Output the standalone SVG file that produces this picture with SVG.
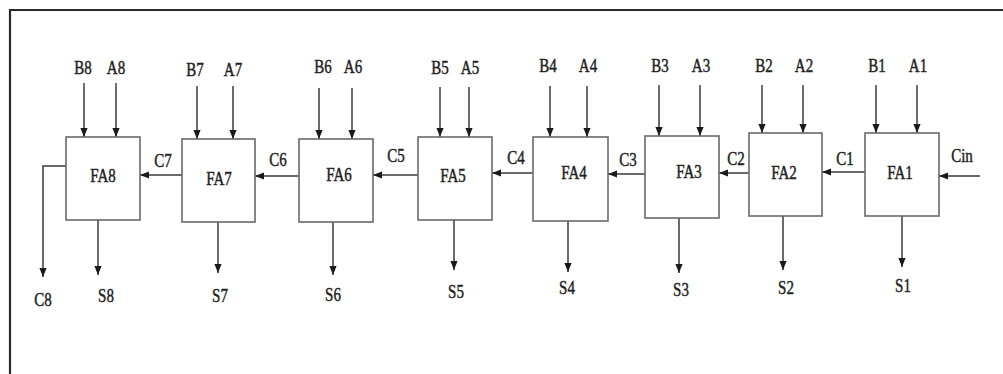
<svg xmlns="http://www.w3.org/2000/svg" width="1003" height="374" viewBox="0 0 1003 374">
<style>
.box{fill:#fff;stroke:#6a6a6a;stroke-width:1.6}
.w{fill:none;stroke:#3a3a3a;stroke-width:1.5}
.t{font-family:"Liberation Serif","Times New Roman",serif;font-size:15px;fill:#222;stroke:#222;stroke-width:0.35;text-anchor:middle}
.f{stroke:#2a2a2a;stroke-width:2.2}
</style>
<defs>
<marker id="ah" viewBox="0 0 10 8" refX="10" refY="4" markerWidth="9" markerHeight="7.5" markerUnits="userSpaceOnUse" orient="auto">
<path d="M0,0 L10,4 L0,8 Z" fill="#1a1a1a"/>
</marker>
</defs>
<rect width="1003" height="374" fill="#fff"/>
<g id="frame">
<line class="f" x1="9" y1="10" x2="1003" y2="10"/>
<line class="f" x1="10" y1="9" x2="10" y2="374"/>
</g>
<g id="connectors">
<line class="w" x1="84" y1="83" x2="84" y2="137" marker-end="url(#ah)"/>
<line class="w" x1="116" y1="83" x2="116" y2="137" marker-end="url(#ah)"/>
<line class="w" x1="197" y1="86" x2="197" y2="139" marker-end="url(#ah)"/>
<line class="w" x1="233" y1="86" x2="233" y2="139" marker-end="url(#ah)"/>
<line class="w" x1="319" y1="88" x2="319" y2="139" marker-end="url(#ah)"/>
<line class="w" x1="352" y1="88" x2="352" y2="139" marker-end="url(#ah)"/>
<line class="w" x1="440" y1="87" x2="440" y2="137" marker-end="url(#ah)"/>
<line class="w" x1="469" y1="87" x2="469" y2="137" marker-end="url(#ah)"/>
<line class="w" x1="550" y1="86" x2="550" y2="137" marker-end="url(#ah)"/>
<line class="w" x1="587" y1="86" x2="587" y2="137" marker-end="url(#ah)"/>
<line class="w" x1="659" y1="85" x2="659" y2="136" marker-end="url(#ah)"/>
<line class="w" x1="700" y1="85" x2="700" y2="136" marker-end="url(#ah)"/>
<line class="w" x1="762" y1="85" x2="762" y2="133" marker-end="url(#ah)"/>
<line class="w" x1="803" y1="85" x2="803" y2="133" marker-end="url(#ah)"/>
<line class="w" x1="876" y1="85" x2="876" y2="133" marker-end="url(#ah)"/>
<line class="w" x1="917" y1="85" x2="917" y2="133" marker-end="url(#ah)"/>
<line class="w" x1="182" y1="175" x2="140" y2="175" marker-end="url(#ah)"/>
<line class="w" x1="299" y1="176" x2="255" y2="176" marker-end="url(#ah)"/>
<line class="w" x1="418" y1="175" x2="373" y2="175" marker-end="url(#ah)"/>
<line class="w" x1="533" y1="173" x2="492" y2="173" marker-end="url(#ah)"/>
<line class="w" x1="649" y1="174" x2="608" y2="174" marker-end="url(#ah)"/>
<line class="w" x1="749" y1="173" x2="719" y2="173" marker-end="url(#ah)"/>
<line class="w" x1="865" y1="172" x2="822" y2="172" marker-end="url(#ah)"/>
<line class="w" x1="980" y1="176" x2="939" y2="176" marker-end="url(#ah)"/>
<polyline class="w" points="66,166 43,166 43,277" marker-end="url(#ah)"/>
<line class="w" x1="98" y1="220" x2="98" y2="275" marker-end="url(#ah)"/>
<line class="w" x1="218" y1="222" x2="218" y2="273" marker-end="url(#ah)"/>
<line class="w" x1="333" y1="222" x2="333" y2="275" marker-end="url(#ah)"/>
<line class="w" x1="454" y1="220" x2="454" y2="270" marker-end="url(#ah)"/>
<line class="w" x1="568" y1="221" x2="568" y2="272" marker-end="url(#ah)"/>
<line class="w" x1="679" y1="218" x2="679" y2="273" marker-end="url(#ah)"/>
<line class="w" x1="783" y1="216" x2="783" y2="270" marker-end="url(#ah)"/>
<line class="w" x1="902" y1="216" x2="902" y2="267" marker-end="url(#ah)"/>
</g>
<g id="FA8"><rect class="box" x="66" y="137" width="74" height="83"/><text class="t" transform="translate(103,182) scale(1,1.25)">FA8</text></g>
<g id="FA7"><rect class="box" x="182" y="139" width="73" height="83"/><text class="t" transform="translate(219,185) scale(1,1.25)">FA7</text></g>
<g id="FA6"><rect class="box" x="299" y="139" width="74" height="83"/><text class="t" transform="translate(339,181) scale(1,1.25)">FA6</text></g>
<g id="FA5"><rect class="box" x="418" y="137" width="74" height="83"/><text class="t" transform="translate(453,182) scale(1,1.25)">FA5</text></g>
<g id="FA4"><rect class="box" x="533" y="137" width="75" height="84"/><text class="t" transform="translate(574,179) scale(1,1.25)">FA4</text></g>
<g id="FA3"><rect class="box" x="645" y="136" width="74" height="82"/><text class="t" transform="translate(689,178) scale(1,1.25)">FA3</text></g>
<g id="FA2"><rect class="box" x="749" y="133" width="73" height="83"/><text class="t" transform="translate(784,179) scale(1,1.25)">FA2</text></g>
<g id="FA1"><rect class="box" x="865" y="133" width="74" height="83"/><text class="t" transform="translate(900,179) scale(1,1.25)">FA1</text></g>
<g id="labels">
<text class="t" transform="translate(83,74) scale(1,1.25)">B8</text>
<text class="t" transform="translate(116,74) scale(1,1.25)">A8</text>
<text class="t" transform="translate(195,76) scale(1,1.25)">B7</text>
<text class="t" transform="translate(233,76) scale(1,1.25)">A7</text>
<text class="t" transform="translate(323,73) scale(1,1.25)">B6</text>
<text class="t" transform="translate(353,73) scale(1,1.25)">A6</text>
<text class="t" transform="translate(440,74) scale(1,1.25)">B5</text>
<text class="t" transform="translate(470,74) scale(1,1.25)">A5</text>
<text class="t" transform="translate(548,72) scale(1,1.25)">B4</text>
<text class="t" transform="translate(588,72) scale(1,1.25)">A4</text>
<text class="t" transform="translate(660,72) scale(1,1.25)">B3</text>
<text class="t" transform="translate(701,72) scale(1,1.25)">A3</text>
<text class="t" transform="translate(764,72) scale(1,1.25)">B2</text>
<text class="t" transform="translate(804,72) scale(1,1.25)">A2</text>
<text class="t" transform="translate(877,72) scale(1,1.25)">B1</text>
<text class="t" transform="translate(918,72) scale(1,1.25)">A1</text>
<text class="t" transform="translate(163,167) scale(1,1.25)">C7</text>
<text class="t" transform="translate(278,166) scale(1,1.25)">C6</text>
<text class="t" transform="translate(396,162) scale(1,1.25)">C5</text>
<text class="t" transform="translate(516,164) scale(1,1.25)">C4</text>
<text class="t" transform="translate(628,166) scale(1,1.25)">C3</text>
<text class="t" transform="translate(736,165) scale(1,1.25)">C2</text>
<text class="t" transform="translate(845,165) scale(1,1.25)">C1</text>
<text class="t" transform="translate(962,162) scale(1,1.25)">Cin</text>
<text class="t" transform="translate(43,306) scale(1,1.25)">C8</text>
<text class="t" transform="translate(106,302) scale(1,1.25)">S8</text>
<text class="t" transform="translate(220,302) scale(1,1.25)">S7</text>
<text class="t" transform="translate(333,301) scale(1,1.25)">S6</text>
<text class="t" transform="translate(456,298) scale(1,1.25)">S5</text>
<text class="t" transform="translate(567,294) scale(1,1.25)">S4</text>
<text class="t" transform="translate(681,296) scale(1,1.25)">S3</text>
<text class="t" transform="translate(786,294) scale(1,1.25)">S2</text>
<text class="t" transform="translate(903,292) scale(1,1.25)">S1</text>
</g>
</svg>
